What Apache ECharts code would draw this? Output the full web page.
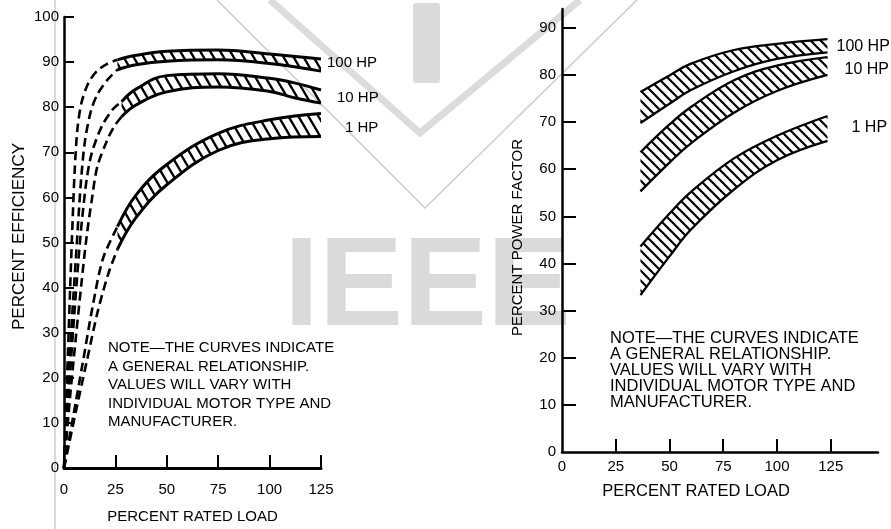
<!DOCTYPE html>
<html>
<head>
<meta charset="utf-8">
<title>Motor efficiency and power factor vs load</title>
<script src="https://cdn.jsdelivr.net/npm/echarts@6/dist/echarts.min.js"></script>
<style>
  html, body { margin: 0; padding: 0; background: #fff; }
  #chart { width: 891px; height: 529px; }
</style>
</head>
<body>
<div id="chart"></div>
<script>
// left chart: percent efficiency vs percent rated load
const effLoad100 = [26, 35, 50, 75, 100, 125]
const eff100Top = [90.5, 91.5, 92.4, 92.7, 91.8, 90.7]
const eff100Bot = [88.3, 89.4, 90.2, 90.5, 89.7, 88.0]

const effLoad10 = [28, 35, 50, 75, 100, 112, 125]
const eff10Top = [81.2, 84.0, 87.0, 87.4, 86.4, 85.4, 83.8]
const eff10Bot = [77.9, 80.5, 83.4, 84.5, 83.5, 82.1, 80.9]

const effLoad1 = [26, 35, 50, 75, 100, 125]
const eff1Top = [53.5, 60.5, 67.3, 74.2, 77.2, 78.6]
const eff1Bot = [48.5, 55.5, 62.8, 70.4, 73.0, 73.5]

// dashed extensions down to the origin
const dash100UpLoad = [0, 1.5, 3, 4.2, 5.2, 6.5, 8.5, 11.8, 16, 21, 26]
const dash100UpEff = [0, 20, 40, 55, 66, 75, 81, 85.3, 88, 89.6, 90.5]
const dash100LoLoad = [0, 2, 4, 5.7, 7.1, 8.5, 10.2, 13, 16.2, 21, 26]
const dash100LoEff = [0, 18, 34, 46, 56, 65, 72.5, 79, 82.8, 86, 88.3]
const dash10UpLoad = [0, 2.5, 5, 7, 8.6, 11, 13.5, 18.3, 23.5, 28]
const dash10UpEff = [0, 18, 34, 46, 54.3, 63.9, 69.8, 75.7, 79.4, 81.2]
const dash10LoLoad = [0, 3, 6, 8.5, 11, 13.5, 16.2, 21, 24.5, 28]
const dash10LoEff = [0, 16, 30, 41, 51.3, 59.4, 66.8, 72.7, 75.8, 77.9]
const dash1UpLoad = [0, 4.5, 9, 14, 19, 26]
const dash1UpEff = [0, 11.5, 23, 36, 46.5, 53.5]
const dash1LoLoad = [0, 6, 11, 16.3, 21.5, 26]
const dash1LoEff = [0, 13, 23.5, 34.5, 43, 48.5]

// right chart: percent power factor vs percent rated load
const pfLoad = [36.5, 50, 60, 80, 100, 123.5]
const pf100Top = [76.4, 79.9, 82.4, 85.3, 86.6, 87.6]
const pf100Bot = [69.8, 73.9, 76.8, 80.8, 83.4, 84.8]
const pf10Top = [63.6, 69.5, 73.2, 78.9, 82.0, 83.8]
const pf10Bot = [55.3, 61.4, 65.5, 72.0, 76.6, 80.0]
const pf1Top = [43.6, 50.6, 55.2, 62.3, 67.1, 71.3]
const pf1Bot = [33.3, 41.5, 47.2, 55.7, 61.9, 66.0]

const loadTicks = [0, 25, 50, 75, 100, 125]
const pfTicks = [0, 10, 20, 30, 40, 50, 60, 70, 80, 90]

const noteText = [
  'NOTE\u2014THE CURVES INDICATE',
  'A GENERAL RELATIONSHIP.',
  'VALUES WILL VARY WITH',
  'INDIVIDUAL MOTOR TYPE AND',
  'MANUFACTURER.'
].join('\n')

const FONT = '"Liberation Sans", Arial, Helvetica, sans-serif'
const INK = '#000'

// diagonal hatch tile, lines running down to the right
function hatch (w, h, lw) {
  const c = document.createElement('canvas')
  c.width = w
  c.height = h
  const ctx = c.getContext('2d')
  ctx.strokeStyle = '#000'
  ctx.lineWidth = lw
  for (let k = -1; k <= 1; k++) {
    ctx.beginPath()
    ctx.moveTo(k * w - w, -h)
    ctx.lineTo(k * w + 2 * w, 2 * h)
    ctx.stroke()
  }
  return { image: c, repeat: 'repeat' }
}

const hatchLeft = hatch(10, 17, 2.4)
const hatchRight = hatch(10, 10, 2.2)

const pairs = (xs, ys) => xs.map((x, i) => [x, ys[i]])

// rows are [value, load] so that the stack runs on the value (y) dimension
function band (id, idx, load, top, bot, pattern, lw, label) {
  const common = {
    type: 'line',
    xAxisIndex: idx,
    yAxisIndex: idx,
    stack: id,
    encode: { x: 1, y: 0 },
    smooth: 0.4,
    showSymbol: false,
    lineStyle: { color: '#000', width: lw }
  }
  return [
    Object.assign({ name: id + ' low', data: load.map((x, i) => [bot[i], x]) }, common),
    Object.assign({
      name: id,
      data: load.map((x, i) => [top[i] - bot[i], x]),
      areaStyle: { color: pattern, opacity: 1 },
      endLabel: label
    }, common)
  ]
}

function dashed (xs, ys) {
  return {
    type: 'line',
    xAxisIndex: 0,
    yAxisIndex: 0,
    data: pairs(xs, ys),
    smooth: 0.3,
    showSymbol: false,
    lineStyle: { color: '#000', width: 2.6, type: [9, 5] }
  }
}

function hpLabel (text, size, dx, dy) {
  return {
    show: true,
    formatter: text,
    color: INK,
    fontFamily: FONT,
    fontSize: size,
    distance: 0,
    offset: [dx, dy]
  }
}

const chart = echarts.init(document.getElementById('chart'))

chart.setOption({
  animation: false,
  backgroundColor: '#fff',
  textStyle: { fontFamily: FONT, color: INK },
  grid: [
    { left: 64, top: 17, width: 257, height: 451, outerBoundsMode: 'none' },
    { left: 562, top: 9, width: 316, height: 443, outerBoundsMode: 'none' }
  ],
  xAxis: [
    {
      gridIndex: 0,
      type: 'value',
      min: 0,
      max: 125,
      interval: 25,
      axisLine: { onZero: false, lineStyle: { color: '#000', width: 3 } },
      axisTick: { inside: true, length: 13, lineStyle: { color: '#000', width: 2 } },
      axisLabel: { margin: 14, fontSize: 15, color: INK, fontFamily: FONT },
      splitLine: { show: false },
      name: 'PERCENT RATED LOAD',
      nameLocation: 'middle',
      nameGap: 41,
      nameTextStyle: { fontSize: 15, color: INK, fontFamily: FONT }
    },
    {
      gridIndex: 1,
      type: 'value',
      min: 0,
      max: 147,
      axisLine: { onZero: false, lineStyle: { color: '#000', width: 2.5 } },
      axisTick: {
        inside: true,
        length: 13,
        customValues: loadTicks.slice(1),
        lineStyle: { color: '#000', width: 2 }
      },
      axisLabel: { margin: 7, fontSize: 15, color: INK, fontFamily: FONT, customValues: loadTicks },
      splitLine: { show: false },
      name: 'PERCENT RATED LOAD',
      nameLocation: 'middle',
      nameGap: 31,
      nameTextStyle: { fontSize: 16.5, color: INK, fontFamily: FONT, padding: [0, 48, 0, 0] }
    }
  ],
  yAxis: [
    {
      gridIndex: 0,
      type: 'value',
      min: 0,
      max: 100,
      interval: 10,
      axisLine: { show: true, onZero: false, lineStyle: { color: '#000', width: 2.5 } },
      axisTick: { show: true, inside: true, length: 10, lineStyle: { color: '#000', width: 2 } },
      axisLabel: { margin: 5, fontSize: 15, color: INK, fontFamily: FONT },
      splitLine: { show: false },
      name: 'PERCENT EFFICIENCY',
      nameLocation: 'middle',
      nameGap: 36,
      nameTextStyle: { fontSize: 17, color: INK, fontFamily: FONT, padding: [0, 0, 0, 12] }
    },
    {
      gridIndex: 1,
      type: 'value',
      min: 0,
      max: 94,
      axisLine: { show: true, onZero: false, lineStyle: { color: '#000', width: 2.5 } },
      axisTick: {
        show: true,
        inside: true,
        length: 14,
        customValues: pfTicks.slice(1),
        lineStyle: { color: '#000', width: 2 }
      },
      axisLabel: { margin: 6, fontSize: 15, color: INK, fontFamily: FONT, customValues: pfTicks },
      splitLine: { show: false },
      name: 'PERCENT POWER FACTOR',
      nameLocation: 'middle',
      nameGap: 37,
      nameTextStyle: { fontSize: 15, color: INK, fontFamily: FONT, padding: [0, 14, 0, 0] }
    }
  ],
  graphic: [
    // faint scan artefacts and the IEEE watermark behind the plots
    { type: 'line', shape: { x1: 55, y1: 0, x2: 55, y2: 529 }, style: { stroke: '#b4b4b4', lineWidth: 1 }, z: -1 },
    { type: 'polyline', shape: { points: [[270, 0], [420, 133], [580, 0]] }, style: { stroke: '#dcdcdc', lineWidth: 7, fill: null }, z: -1 },
    { type: 'polyline', shape: { points: [[217, 0], [425, 208], [637, 0]] }, style: { stroke: '#cccccc', lineWidth: 1.5, fill: null }, z: -1 },
    { type: 'rect', shape: { x: 413, y: 3, width: 27, height: 80, r: 3 }, style: { fill: '#dadada' }, z: -1 },
    {
      type: 'text',
      z: -1,
      style: { text: 'IEEE', x: 284, y: 227, font: 'bold 126px ' + FONT, fill: '#dadada' }
    },
    {
      type: 'text',
      style: { text: noteText, x: 108, y: 339, font: '15px ' + FONT, lineHeight: 18.5, fill: INK }
    },
    {
      type: 'text',
      style: { text: noteText, x: 610, y: 330, font: '16.5px ' + FONT, lineHeight: 16, fill: INK }
    }
  ],
  series: [
    dashed(dash100UpLoad, dash100UpEff),
    dashed(dash100LoLoad, dash100LoEff),
    dashed(dash10UpLoad, dash10UpEff),
    dashed(dash10LoLoad, dash10LoEff),
    dashed(dash1UpLoad, dash1UpEff),
    dashed(dash1LoLoad, dash1LoEff),
    ...band('eff100', 0, effLoad100, eff100Top, eff100Bot, hatchLeft, 3, hpLabel('100 HP', 15, 6, 4)),
    ...band('eff10', 0, effLoad10, eff10Top, eff10Bot, hatchLeft, 3, hpLabel('10 HP', 15, 16, 8)),
    ...band('eff1', 0, effLoad1, eff1Top, eff1Bot, hatchLeft, 3, hpLabel('1 HP', 15, 24, 14)),
    ...band('pf100', 1, pfLoad, pf100Top, pf100Bot, hatchRight, 2.3, hpLabel('100 HP', 16, 9, 7)),
    ...band('pf10', 1, pfLoad, pf10Top, pf10Bot, hatchRight, 2.3, hpLabel('10 HP', 16, 17, 13)),
    ...band('pf1', 1, pfLoad, pf1Top, pf1Bot, hatchRight, 2.3, hpLabel('1 HP', 16, 24, 12))
  ]
})
</script>
</body>
</html>
